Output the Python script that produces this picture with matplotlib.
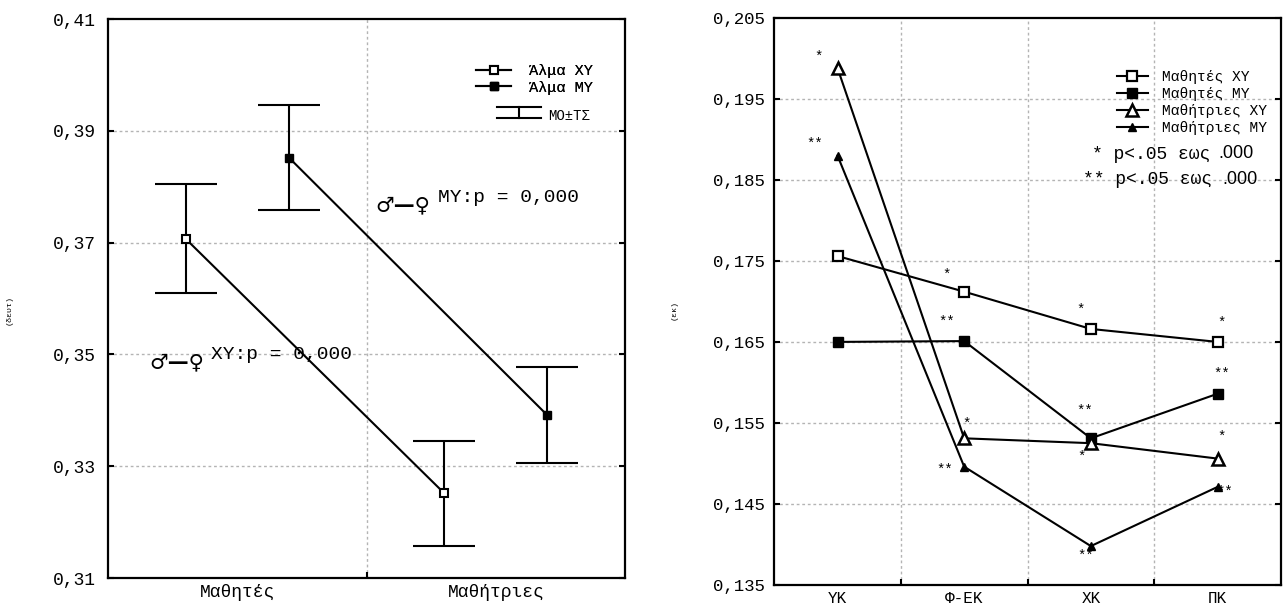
import numpy as np
import matplotlib.pyplot as plt

mono = "Liberation Mono"

# left panel: jump (δευτ)
groups = ["Μαθητές", "Μαθήτριες"]
jump_xy = [0.3707, 0.3252]
jump_xy_err = [0.0098, 0.0094]
jump_my = [0.3852, 0.3391]
jump_my_err = [0.0094, 0.0086]

# right panel: (εκ)
phases = ["ΥΚ", "Φ-ΕΚ", "ΧΚ", "ΠΚ"]
boys_xy = [0.1756, 0.1712, 0.1666, 0.1650]
boys_my = [0.1650, 0.1651, 0.1531, 0.1586]
girls_xy = [0.1988, 0.1531, 0.1525, 0.1506]
girls_my = [0.1880, 0.1496, 0.1398, 0.1471]

# significance stars: (category index, offset, value, text)
stars = [
    (0, -0.15, 0.2002, "*"), (0, -0.18, 0.1894, "**"),
    (1, -0.14, 0.1733, "*"), (1, -0.14, 0.1675, "**"),
    (1, 0.02, 0.1549, "*"), (1, -0.15, 0.1492, "**"),
    (2, -0.08, 0.1690, "*"), (2, -0.05, 0.1565, "**"),
    (2, -0.07, 0.1508, "*"), (2, -0.04, 0.1386, "**"),
    (3, 0.03, 0.1673, "*"), (3, 0.03, 0.1611, "**"),
    (3, 0.03, 0.1533, "*"), (3, 0.06, 0.1465, "**"),
]

grid_kw = dict(color="#b4b4b4", linestyle=(0, (2, 2)), linewidth=1.0)

fig = plt.figure(figsize=(12.86, 6.04), dpi=100)
ax1 = fig.add_axes([0.084, 0.043, 0.402, 0.9255])
ax2 = fig.add_axes([0.602, 0.0315, 0.394, 0.939])

# ---- left panel
pos = np.arange(len(groups)) + 0.5
ax1.plot(pos - 0.2, jump_xy, color="black", lw=1.5, marker="s", ms=6,
         mfc="white", mec="black", mew=1.5, zorder=4, label="Άλμα ΧΥ")
ax1.plot(pos + 0.2, jump_my, color="black", lw=1.5, marker="s", ms=6,
         mfc="black", mec="black", zorder=4, label="Άλμα ΜΥ")
ax1.errorbar(pos - 0.2, jump_xy, yerr=jump_xy_err, fmt="none", ecolor="black",
             elinewidth=1.5, capsize=22, capthick=1.5, zorder=3)
ax1.errorbar(pos + 0.2, jump_my, yerr=jump_my_err, fmt="none", ecolor="black",
             elinewidth=1.5, capsize=22, capthick=1.5, zorder=3)

ax1.set_xlim(0, 2)
ax1.set_ylim(0.31, 0.41)
yt1 = np.arange(0.31, 0.4101, 0.02)
ax1.set_yticks(yt1)
ax1.set_yticklabels([f"{v:.2f}".replace(".", ",") for v in yt1], family=mono, fontsize=13)
ax1.set_xticks(pos)
ax1.set_xticklabels(groups, family=mono, fontsize=13)
ax1.set_xticks([1.0], minor=True)
for y in yt1[1:-1]:
    ax1.axhline(y, zorder=0, **grid_kw)
ax1.axvline(1.0, zorder=0, **grid_kw)
ax1.tick_params(axis="x", which="major", length=0, pad=4)
ax1.tick_params(axis="x", which="minor", direction="in", length=4, width=1.5)
ax1.tick_params(axis="y", direction="in", length=4, width=1.5, right=True, pad=9)
ax1.set_ylabel("(δευτ)", family=mono, fontsize=6)
ax1.yaxis.set_label_coords(-0.185, 0.48)

leg1 = ax1.legend(loc="upper left", bbox_to_anchor=(0.70, 0.93), frameon=False,
                  prop={"family": mono, "size": 11}, handlelength=2.3,
                  handletextpad=1.2, labelspacing=0.15, borderaxespad=0)
ax1.add_artist(leg1)
# ΜΟ±ΤΣ symbol
ax1.plot([0.752, 0.838], [0.8426, 0.8426], color="black", lw=1.5, transform=ax1.transAxes)
ax1.plot([0.752, 0.838], [0.823, 0.823], color="black", lw=1.5, transform=ax1.transAxes)
ax1.plot([0.795, 0.795], [0.823, 0.8426], color="black", lw=1.5, transform=ax1.transAxes)
ax1.text(0.851, 0.826, "ΜΟ±ΤΣ", transform=ax1.transAxes, family=mono, fontsize=10,
         va="center", ha="left")

ax1.text(1.035, 0.3767, "♂—♀", family="DejaVu Sans", fontsize=15, fontweight="bold",
         va="center", ha="left")
ax1.text(1.278, 0.3780, "ΜΥ:p = 0,000", family=mono, fontsize=14, va="center", ha="left")
ax1.text(0.158, 0.3486, "♂—♀", family="DejaVu Sans", fontsize=15, fontweight="bold",
         va="center", ha="left")
ax1.text(0.40, 0.3500, "ΧΥ:p = 0,000", family=mono, fontsize=14, va="center", ha="left")

# ---- right panel
xp = np.arange(len(phases)) + 0.5
ax2.plot(xp, boys_xy, color="black", lw=1.5, marker="s", ms=7, mfc="white",
         mec="black", mew=1.6, zorder=4, label="Μαθητές ΧΥ")
ax2.plot(xp, boys_my, color="black", lw=1.5, marker="s", ms=7, mfc="black",
         mec="black", zorder=4, label="Μαθητές ΜΥ")
ax2.plot(xp, girls_xy, color="black", lw=1.5, marker="^", ms=9, mfc="white",
         mec="black", mew=1.8, zorder=5, label="Μαθήτριες ΧΥ")
ax2.plot(xp, girls_my, color="black", lw=1.5, marker="^", ms=5.5, mfc="black",
         mec="black", zorder=4, label="Μαθήτριες ΜΥ")

for i, dx, v, s in stars:
    ax2.text(xp[i] + dx, v, s, family=mono, fontsize=10, ha="center", va="center")

ax2.set_xlim(0, 4)
ax2.set_ylim(0.135, 0.205)
yt = np.arange(0.135, 0.2051, 0.01)
ax2.set_yticks(yt)
ax2.set_yticklabels([f"{v:.3f}".replace(".", ",") for v in yt], family=mono, fontsize=12.5)
ax2.set_xticks(xp)
ax2.set_xticklabels(phases, family=mono, fontsize=11.5)
ax2.set_xticks([1, 2, 3], minor=True)
for y in yt[1:-1]:
    ax2.axhline(y, zorder=0, **grid_kw)
for x in [1, 2, 3]:
    ax2.axvline(x, zorder=0, **grid_kw)
ax2.tick_params(axis="x", which="major", length=0, pad=4)
ax2.tick_params(axis="x", which="minor", direction="in", length=4, width=1.5)
ax2.tick_params(axis="y", direction="in", length=4, width=1.5, right=True, pad=7)
ax2.set_ylabel("(εκ)", family=mono, fontsize=6)
ax2.yaxis.set_label_coords(-0.19, 0.485)

ax2.legend(loc="upper left", bbox_to_anchor=(0.665, 0.918), frameon=False,
           prop={"family": mono, "size": 10.5}, handlelength=2.1,
           handletextpad=1.0, labelspacing=0.2, borderaxespad=0)

ax2.text(2.51, 0.1881, "* p<.05 εως", family=mono, fontsize=13, ha="left", va="center")
ax2.text(3.51, 0.1882, ".000", family="Liberation Sans", fontsize=13, ha="left", va="center")
ax2.text(2.44, 0.1850, "** p<.05 εως", family=mono, fontsize=13, ha="left", va="center")
ax2.text(3.54, 0.1851, ".000", family="Liberation Sans", fontsize=13, ha="left", va="center")

for ax in (ax1, ax2):
    for sp in ax.spines.values():
        sp.set_linewidth(1.6)

fig.savefig("out.png", dpi=100)
